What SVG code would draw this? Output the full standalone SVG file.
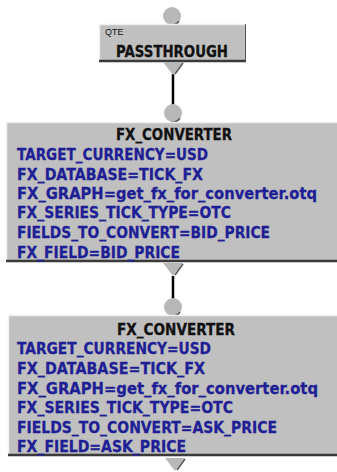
<svg xmlns="http://www.w3.org/2000/svg" width="337" height="472" viewBox="0 0 337 472">
  <style>
    .box { fill: #c0c0c0; }
    .hl { stroke: #f0f0f0; stroke-width: 1.5; fill: none; }
    .sh { stroke: #3a3a3a; stroke-width: 2.5; fill: none; }
    .port { fill: #b8b8b8; }
    .portsh { stroke: #555; stroke-width: 1.5; fill: none; }
    .wire { stroke: #000; stroke-width: 2.5; fill: none; }
    .title { font-family: "DejaVu Sans", "Liberation Sans", sans-serif; font-weight: bold; font-size: 15px; fill: #111; stroke: #111; stroke-width: 0.3; }
    .param { font-family: "DejaVu Sans", "Liberation Sans", sans-serif; font-weight: bold; font-size: 15px; fill: #1f1f95; stroke: #1f1f95; stroke-width: 0.3; }
    .small { font-family: "Liberation Sans", sans-serif; font-size: 9px; fill: #111; }
  </style>
  <defs>
    <g id="inport">
      <circle class="port" cx="0" cy="0" r="9"/>
      <path class="portsh" d="M 7 5 A 9 9 0 0 1 -2 9"/>
    </g>
    <g id="outport">
      <polygon class="port" points="-10,0 10,0 0,13"/>
      <path class="portsh" d="M 10 1 L 2 12"/>
    </g>
  </defs>

  <!-- wires between operators -->
  <g id="connectors">
    <line class="wire" x1="173" y1="74" x2="173" y2="106"/>
    <line class="wire" x1="173" y1="276" x2="173" y2="300"/>
  </g>

  <!-- QTE passthrough -->
  <g id="passthrough">
    <use href="#inport" x="172" y="16"/>
    <rect class="box" x="99" y="24" width="147" height="37"/>
    <polyline class="hl" points="99.5,61 99.5,24.5 246,24.5"/>
    <line class="sh" x1="99" y1="61" x2="246" y2="61"/>
    <line x1="245.5" y1="24" x2="245.5" y2="61" stroke="#555" stroke-width="1"/>
    <text class="small" x="105" y="35">QTE</text>
    <text class="title" x="116" y="57" textLength="112" lengthAdjust="spacingAndGlyphs">PASSTHROUGH</text>
    <use href="#outport" x="173" y="62"/>
  </g>

  <!-- first FX converter (bid) -->
  <g id="fx-converter-bid">
    <use href="#inport" x="173" y="113"/>
    <rect class="box" x="6" y="122" width="331" height="139"/>
    <polyline class="hl" points="6.5,261 6.5,122.5 337,122.5"/>
    <line class="sh" x1="6" y1="261" x2="337" y2="261"/>
    <text class="title" x="116" y="140" textLength="116" lengthAdjust="spacingAndGlyphs">FX_CONVERTER</text>
    <text class="param" x="17" y="160" textLength="191" lengthAdjust="spacingAndGlyphs">TARGET_CURRENCY=USD</text>
    <text class="param" x="17" y="180" textLength="186" lengthAdjust="spacingAndGlyphs">FX_DATABASE=TICK_FX</text>
    <text class="param" x="17" y="199" textLength="300" lengthAdjust="spacingAndGlyphs">FX_GRAPH=get_fx_for_converter.otq</text>
    <text class="param" x="17" y="218" textLength="214" lengthAdjust="spacingAndGlyphs">FX_SERIES_TICK_TYPE=OTC</text>
    <text class="param" x="17" y="238" textLength="253" lengthAdjust="spacingAndGlyphs">FIELDS_TO_CONVERT=BID_PRICE</text>
    <text class="param" x="17" y="258" textLength="163" lengthAdjust="spacingAndGlyphs">FX_FIELD=BID_PRICE</text>
    <use href="#outport" x="173" y="263"/>
  </g>

  <!-- second FX converter (ask) -->
  <g id="fx-converter-ask">
    <use href="#inport" x="173" y="307"/>
    <rect class="box" x="8" y="315" width="329" height="140"/>
    <polyline class="hl" points="8.5,455 8.5,315.5 337,315.5"/>
    <line class="sh" x1="8" y1="455" x2="337" y2="455"/>
    <text class="title" x="117" y="335" textLength="118" lengthAdjust="spacingAndGlyphs">FX_CONVERTER</text>
    <text class="param" x="17" y="354" textLength="194" lengthAdjust="spacingAndGlyphs">TARGET_CURRENCY=USD</text>
    <text class="param" x="17" y="374" textLength="188" lengthAdjust="spacingAndGlyphs">FX_DATABASE=TICK_FX</text>
    <text class="param" x="17" y="394" textLength="301" lengthAdjust="spacingAndGlyphs">FX_GRAPH=get_fx_for_converter.otq</text>
    <text class="param" x="17" y="413" textLength="216" lengthAdjust="spacingAndGlyphs">FX_SERIES_TICK_TYPE=OTC</text>
    <text class="param" x="17" y="433" textLength="260" lengthAdjust="spacingAndGlyphs">FIELDS_TO_CONVERT=ASK_PRICE</text>
    <text class="param" x="17" y="452" textLength="169" lengthAdjust="spacingAndGlyphs">FX_FIELD=ASK_PRICE</text>
    <use href="#outport" x="175" y="458"/>
  </g>
</svg>
